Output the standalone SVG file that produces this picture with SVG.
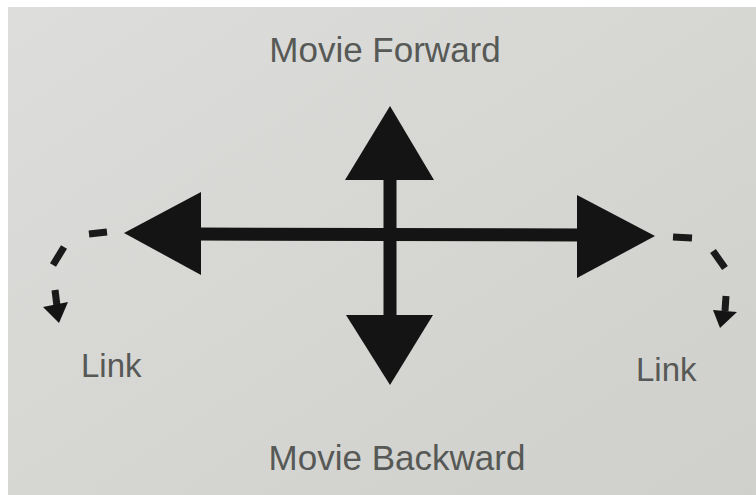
<svg xmlns="http://www.w3.org/2000/svg" width="756" height="495" viewBox="0 0 756 495">
  <defs>
    <linearGradient id="bg" x1="0" y1="0" x2="1" y2="1">
      <stop offset="0" stop-color="#dddedb"/>
      <stop offset="1" stop-color="#cfd0cc"/>
    </linearGradient>
    <style>
      .lbl { font-family: "Liberation Sans", Arial, sans-serif; fill: #575956; }
      .shaft { stroke: #141414; stroke-width: 13; fill: none; }
      .head { fill: #141414; }
      .dash { stroke: #1a1a1a; stroke-width: 7; fill: none; stroke-linecap: butt; }
    </style>
  </defs>
  <rect x="0" y="0" width="756" height="495" fill="#ffffff"/>
  <rect x="8" y="7" width="748" height="488" fill="url(#bg)"/>

  <g id="connectors">
    <line class="shaft" x1="195" y1="234" x2="585" y2="235"/>
    <line class="shaft" x1="390" y1="175" x2="390" y2="320"/>
    <polygon class="head" points="390,106 345,180 434,180"/>
    <polygon class="head" points="390,385 346,315 433,315"/>
    <polygon class="head" points="124,233 201,192 201,275"/>
    <polygon class="head" points="655,236 577,195 577,278"/>
    <!-- left dashed link arrow -->
    <line class="dash" x1="89" y1="234" x2="107" y2="232"/>
    <line class="dash" x1="53" y1="265" x2="64" y2="247"/>
    <line class="dash" x1="55" y1="290" x2="57" y2="306"/>
    <polygon class="head" points="43,307 68,302 59,323"/>
    <!-- right dashed link arrow -->
    <line class="dash" x1="673" y1="237" x2="692" y2="238"/>
    <line class="dash" x1="713" y1="251" x2="725" y2="268"/>
    <line class="dash" x1="726" y1="296" x2="725" y2="311"/>
    <polygon class="head" points="713,310 737,312 720,328"/>
  </g>

  <g id="movie-forward"><text class="lbl" x="385" y="62" font-size="35" text-anchor="middle">Movie Forward</text></g>
  <g id="movie-backward"><text class="lbl" x="397" y="470" font-size="35" text-anchor="middle">Movie Backward</text></g>
  <g id="link-left"><text class="lbl" x="81" y="377" font-size="33">Link</text></g>
  <g id="link-right"><text class="lbl" x="636" y="381" font-size="33">Link</text></g>
</svg>
